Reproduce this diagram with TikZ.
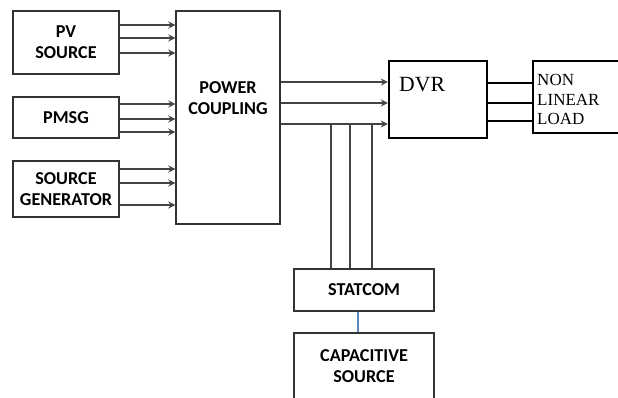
\documentclass[tikz,border=0pt]{standalone}
\usepackage{fontspec}
\newfontfamily\blkfont{Carlito}
\newfontfamily\serfont{Liberation Serif}
\usetikzlibrary{arrows.meta, positioning, calc}

\begin{document}
\begin{tikzpicture}[
    x=0.03cm, y=-0.03cm,
    >={Stealth[length=6pt, width=6pt, inset=2pt]},
    blk/.style={draw=boxgray, line width=1.2pt, inner sep=0pt,
        font=\blkfont\bfseries\fontsize{15.5}{18}\selectfont,
        text=black, align=center},
    heavy/.style={draw=black, line width=2pt, inner sep=0pt},
    feed/.style={->, draw=wiregray, line width=1.2pt},
    bus/.style={draw=wiregray, line width=1.2pt},
    tie/.style={draw=black, line width=2.4pt},
    sertxt/.style={font=\serfont\fontsize{14.5}{17}\selectfont, inner sep=0pt}
]
    % canvas 618 x 398 px
    \path[use as bounding box] (0,0) rectangle (618,398);

    % colours
    \definecolor{boxgray}{HTML}{333333}
    \definecolor{wiregray}{HTML}{444444}
    \definecolor{linkblue}{HTML}{5B87C4}

    % ==========================================
    % sources
    % ==========================================
    \node[blk, minimum width=3.18cm, minimum height=1.89cm] (pv) at (66,42.5) {PV\\SOURCE};
    \node[blk, minimum width=3.18cm, minimum height=1.23cm] (pmsg) at (66,117.5) {PMSG};
    \node[blk, minimum width=3.18cm, minimum height=1.68cm] (sg) at (66,189) {SOURCE\\GENERATOR};

    % power coupling
    \node[blk, minimum width=3.12cm, minimum height=6.39cm] (pc) at (228,117.5) {};
    \node[blk, draw=none] (pclabel) at (228,98.5) {POWER\\COUPLING};

    % source feeds into coupling
    \foreach \yy in {25,38,53} {
        \draw[feed] (pv.east |- 0,\yy) -- (pc.west |- 0,\yy);
    }
    \foreach \yy in {104,119,132} {
        \draw[feed] (pmsg.east |- 0,\yy) -- (pc.west |- 0,\yy);
    }
    \foreach \yy in {169,183,205} {
        \draw[feed] (sg.east |- 0,\yy) -- (pc.west |- 0,\yy);
    }

    % ==========================================
    % DVR and load
    % ==========================================
    \node[heavy, minimum width=2.94cm, minimum height=2.31cm] (dvr) at (438,99.5) {};
    \node[sertxt, font=\serfont\fontsize{18.5}{20}\selectfont, anchor=west] (dvrlabel) at (399,85) {DVR};

    \node[heavy, minimum width=2.61cm, minimum height=2.16cm] (load) at (576.5,97) {};
    \node[sertxt, align=left, anchor=west] (loadlabel) at (537,99.5) {NON\\LINEAR\\LOAD};

    \foreach \yy in {82,103,124} {
        \draw[feed] (pc.east |- 0,\yy) -- (dvr.west |- 0,\yy);
    }
    \foreach \yy in {83,103,121} {
        \draw[tie] ($(dvr.east |- 0,\yy)+(-2,0)$) -- (load.west |- 0,\yy);
    }

    % ==========================================
    % STATCOM branch
    % ==========================================
    \node[blk, minimum width=4.2cm, minimum height=1.26cm] (statcom) at (364,290) {STATCOM};
    \node[blk, minimum width=4.2cm, minimum height=2.01cm] (cap) at (364,366.5) {CAPACITIVE\\SOURCE};

    \foreach \xx in {331,350,372} {
        \coordinate (tap\xx) at (\xx,124);
        \draw[bus] (tap\xx) -- (tap\xx |- statcom.north);
    }
    \draw[linkblue, line width=1pt] (statcom.south -| 358,0) -- (cap.north -| 358,0);

\end{tikzpicture}
\end{document}
